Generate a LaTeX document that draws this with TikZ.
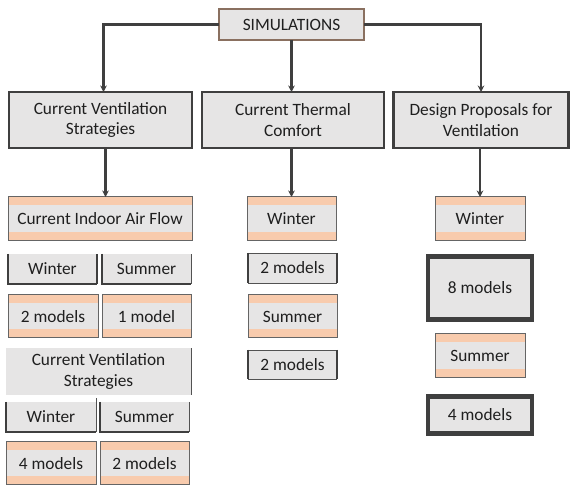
\documentclass[tikz,border=0pt]{standalone}
\usepackage{fontspec}
\setmainfont{Carlito}
\usetikzlibrary{arrows.meta}
\definecolor{boxgray}{HTML}{E6E5E5}
\definecolor{band}{HTML}{F8CBAD}
\definecolor{dark}{HTML}{3F3F3F}
\definecolor{simedge}{HTML}{8A7060}
\begin{document}
\begin{tikzpicture}[x=1pt,y=-1pt,
  every node/.style={inner sep=0pt, outer sep=0pt, font=\fontsize{17.3}{20.5}\selectfont, text=black!88, align=center},
  simbox/.style={fill=boxgray, draw=simedge, line width=1.1pt},
  headbox/.style={fill=boxgray, draw=dark, line width=2.8pt},
  orbox/.style={fill=boxgray, draw=dark!80, line width=1pt,
    path picture={
      \fill[band] (path picture bounding box.north west) rectangle ([yshift=-8.5pt]path picture bounding box.north east);
      \fill[band] (path picture bounding box.south west) rectangle ([yshift=8.5pt]path picture bounding box.south east);}},
  graybox/.style={fill=boxgray},
  thickbox/.style={fill=boxgray, draw=dark, line width=4.5pt},
  conn/.style={draw=dark, line width=2.3pt, -{Stealth[length=6.5pt,width=6.5pt]}},
  edge/.style={draw=dark, line width=2.2pt},
  thinedge/.style={draw=dark!90, line width=0.9pt}]
\useasboundingbox[fill=white] (0,0) rectangle (571,486);

% top
\node[simbox, minimum width=145pt, minimum height=31pt] (sim) at (291.5,24.5) {SIMULATIONS};

% level 2
\node[headbox, minimum width=183pt, minimum height=56pt] (cvs) at (100.5,120) {Current Ventilation\\Strategies};
\node[headbox, minimum width=182pt, minimum height=56pt] (ctc) at (293,120) {Current Thermal\\Comfort};
\node[headbox, minimum width=175pt, minimum height=56pt] (dpv) at (481,120) {Design Proposals for\\Ventilation};

% left column
\node[orbox, minimum width=184pt, minimum height=44pt] (cia) at (100,219) {Current Indoor Air Flow};
\node[graybox, minimum width=89pt, minimum height=30pt] (win1) at (52.5,269) {Winter};
\node[graybox, minimum width=89pt, minimum height=30pt] (sum1) at (146.5,269) {Summer};
\node[orbox, minimum width=90pt, minimum height=43pt] (m2a) at (53,316.5) {2 models};
\node[orbox, minimum width=89pt, minimum height=43pt] (m1) at (146.5,316.5) {1 model};
\node[graybox, minimum width=185pt, minimum height=47pt] (cvs2) at (98.5,371.5) {Current Ventilation\\Strategies};
\node[graybox, minimum width=90pt, minimum height=30pt] (win2) at (51,417) {Winter};
\node[graybox, minimum width=89pt, minimum height=30pt] (sum2) at (144.5,417) {Summer};
\node[orbox, minimum width=90pt, minimum height=43pt] (m4) at (51,463.5) {4 models};
\node[orbox, minimum width=89pt, minimum height=43pt] (m2b) at (144.5,463.5) {2 models};

% middle column
\node[orbox, minimum width=89pt, minimum height=44pt] (w2) at (291.5,219) {Winter};
\node[graybox, minimum width=89pt, minimum height=30pt] (m2c) at (292.5,268) {2 models};
\node[orbox, minimum width=89pt, minimum height=43pt] (s2) at (292.5,316.5) {Summer};
\node[graybox, minimum width=89pt, minimum height=29pt] (m2d) at (292.5,364.5) {2 models};

% right column
\node[orbox, minimum width=90pt, minimum height=44pt] (w3) at (480,219) {Winter};
\node[thickbox, minimum width=104pt, minimum height=63pt] (m8) at (480,288) {8 models};
\node[orbox, minimum width=90pt, minimum height=44pt] (s3) at (480,356) {Summer};
\node[thickbox, minimum width=104pt, minimum height=37pt] (m4b) at (480,415) {4 models};

% partial borders of the plain boxes
\foreach \n in {win1,win2,sum1,sum2}{
  \draw[edge] (\n.north west) -- (\n.south west) -- (\n.south east);
}
\draw[edge] (win1.south east) -- (win1.north east);
\draw[thinedge] (sum1.south east) -- (sum1.north east);
\draw[thinedge] (win2.south east) -- ([yshift=4pt]win2.north east);
\draw[thinedge] (sum2.south east) -- (sum2.north east);
\draw[thinedge] (cvs2.south east) -- (cvs2.north east);
\foreach \n in {m2c,m2d}{
  \draw[thinedge] (\n.north west) -- (\n.north east);
  \draw[thinedge] (\n.south west) -- (\n.south east);
  \draw[edge] (\n.north west) -- (\n.south west);
  \draw[edge] (\n.north east) -- (\n.south east);
}

% connectors
\draw[conn] (sim.west) -| ([xshift=3pt]cvs.north);
\draw[conn] (sim.east) -| (dpv.north);
\draw[conn] (sim.south) -- (sim.south |- ctc.north);
\draw[conn] ([xshift=5pt]cvs.south) -- ([xshift=5pt]cvs.south |- cia.north);
\draw[conn] (ctc.south -| w2.north) -- (w2.north);
\draw[conn] (dpv.south -| w3.north) -- (w3.north);
\end{tikzpicture}
\end{document}
